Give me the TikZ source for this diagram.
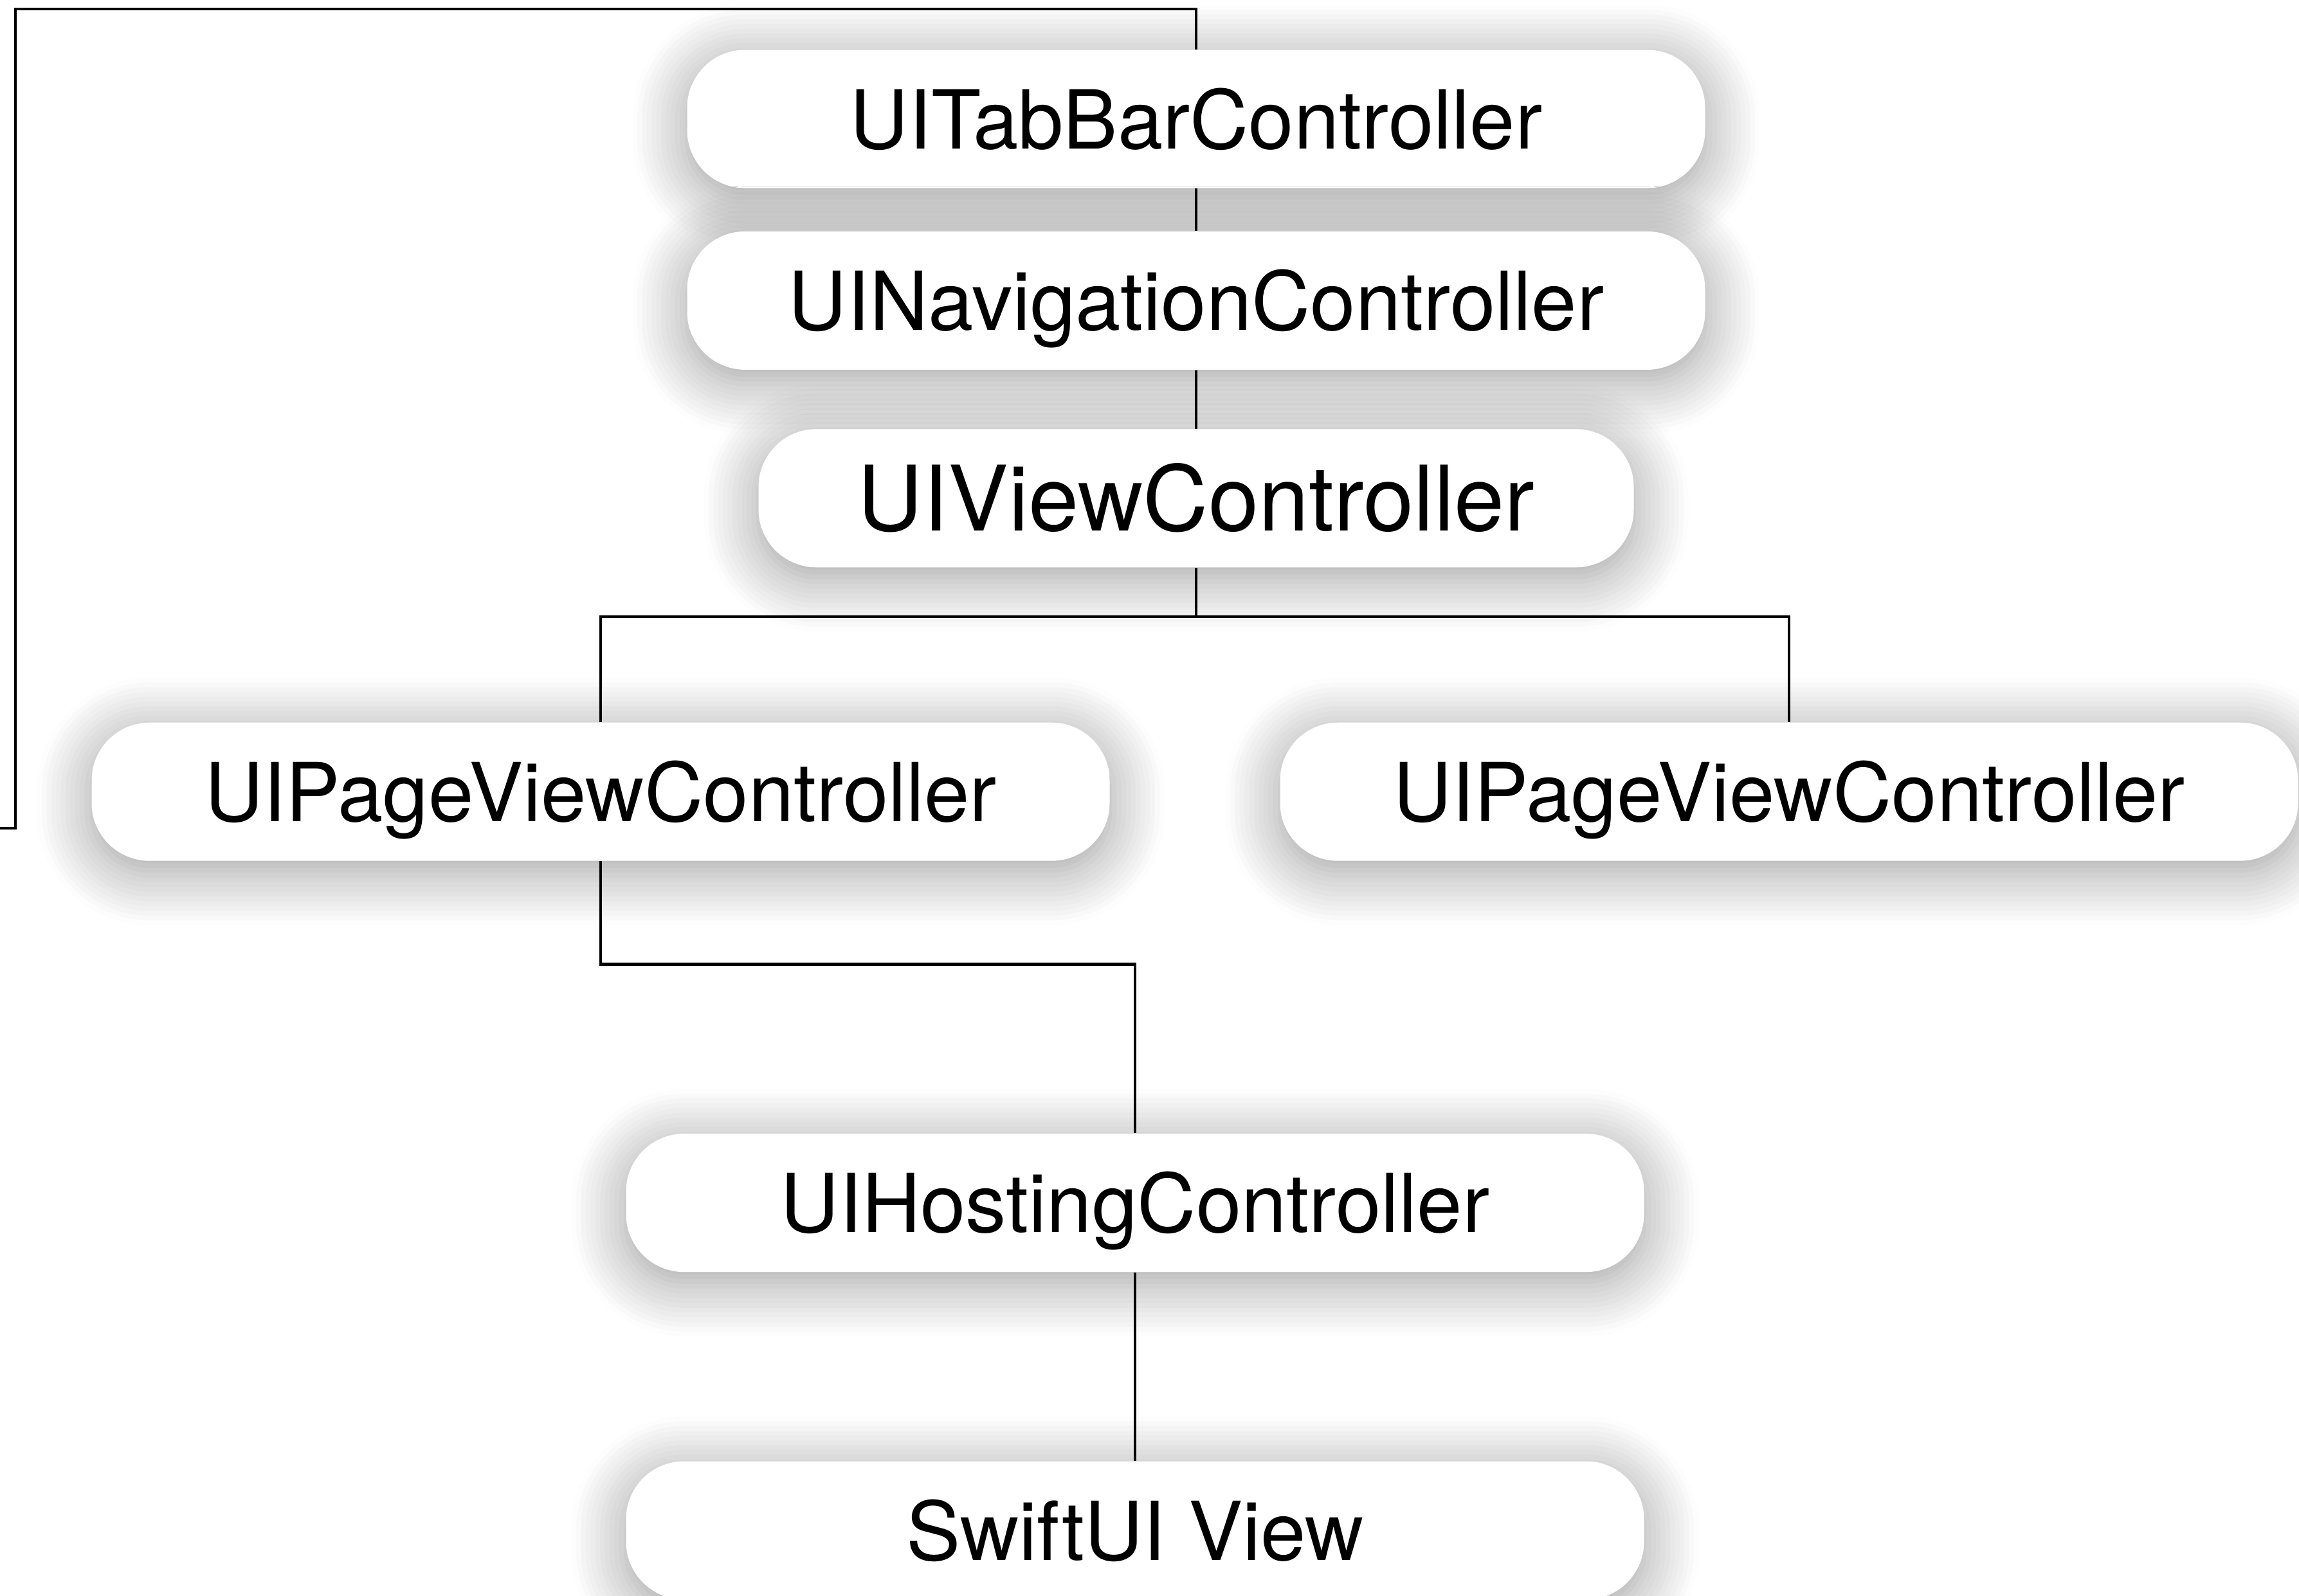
\documentclass[tikz,border=0pt]{standalone}
\usepackage{fontspec}
\setmainfont{TeX Gyre Heros}
\usetikzlibrary{positioning, shadows.blur}

\begin{document}
\begin{tikzpicture}[
  box/.style={rounded corners=0.9cm, fill=white, minimum width=15.83cm, minimum height=2.15cm,
    inner sep=0pt, text height=0.92cm, text depth=0pt, font=\fontsize{36}{40}\selectfont,
    blur shadow={shadow xshift=0pt, shadow yshift=-0.15cm, shadow blur radius=0.85cm,
      shadow blur steps=12, shadow opacity=40}},
  link/.style={line width=1.3pt}
]
\useasboundingbox (0,0) rectangle (35.75,-24.82);

% Row 1: controller stack
\node[box] (tabbar) at (18.60,-1.85) {UITabBarController};
\node[box, below=0.66cm of tabbar] (nav) {UINavigationController};
\node[box, below=0.91cm of nav, minimum width=13.61cm, text height=1.02cm,
  font=\fontsize{40}{44}\selectfont] (vc) {UIViewController};

\draw[link] (tabbar) -- (nav);
\draw[link] (nav) -- (vc);

% Row 2: page view controllers
\node[box, below=2.40cm of vc, xshift=-9.26cm] (pageL) {UIPageViewController};
\node[box, below=2.40cm of vc, xshift=9.22cm] (pageR) {UIPageViewController};

\coordinate[below=0.76cm of vc] (vcsplit);
\draw[link] (vc) -- (vcsplit);
\draw[link] (pageL) |- (vcsplit) -| (pageR);

% Row 3: hosting controller -> SwiftUI View
\node[box, below=4.23cm of pageL, xshift=8.31cm] (hosting) {UIHostingController};
\node[box, below=2.93cm of hosting] (swift) {SwiftUI View};

\draw[link] (pageL.south) -- ++(0,-1.60) -| (hosting.north);
\draw[link] (hosting) -- (swift);

% Loop round the left side
\coordinate (topleft) at (0.24,-0.14);
\coordinate (loopend) at (0,-12.88);
\draw[link] (tabbar.north) |- (topleft) |- (loopend);

\end{tikzpicture}
\end{document}
